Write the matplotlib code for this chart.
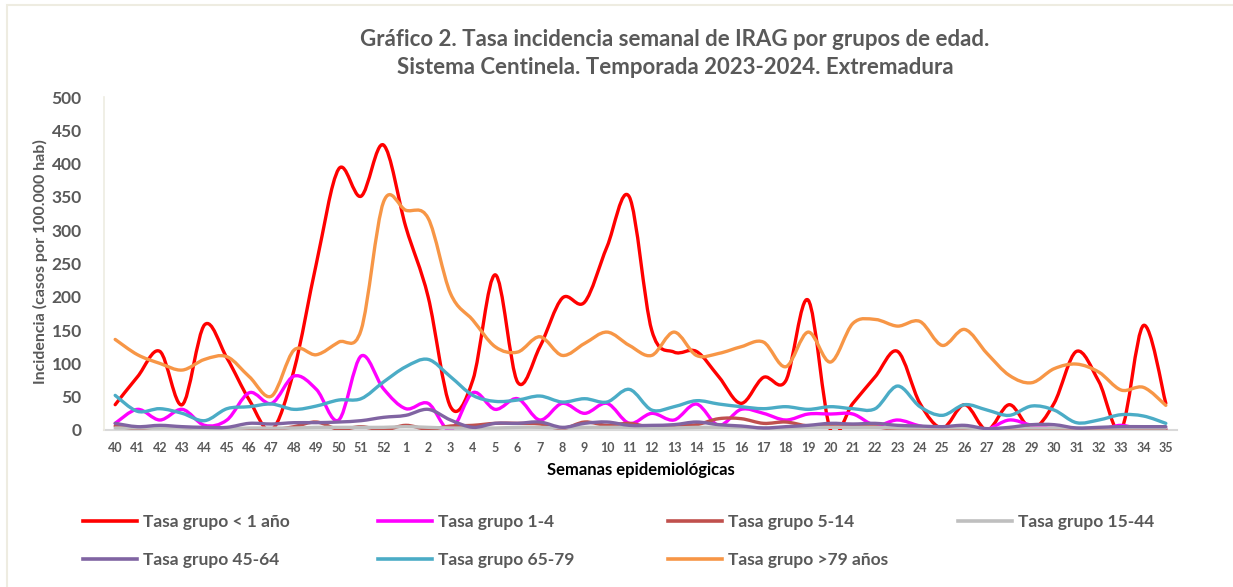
import numpy as np
import matplotlib
matplotlib.use("Agg")
import matplotlib.pyplot as plt
from matplotlib.path import Path
from matplotlib.patches import PathPatch, Rectangle
from matplotlib.lines import Line2D

weeks = ["40","41","42","43","44","45","46","47","48","49","50","51","52",
         "1","2","3","4","5","6","7","8","9","10","11","12","13","14","15",
         "16","17","18","19","20","21","22","23","24","25","26","27","28",
         "29","30","31","32","33","34","35"]

g_lt1 = [38, 80, 118, 38, 158, 108, 45, 0, 90, 250, 392, 351, 428,
         305, 200, 35, 75, 233, 72, 125, 198, 192, 275, 350, 150, 117, 118, 80,
         40, 79, 74, 195, 0, 40, 80, 118, 40, 3, 38, 0, 38,
         2, 40, 118, 73, 0, 157, 40]
g_1_4 = [10, 31, 15, 31, 7, 15, 56, 40, 81, 61, 15, 111, 62,
         32, 40, 0, 56, 31, 47, 15, 40, 25, 40, 10, 25, 15, 39, 7,
         31, 25, 15, 24, 24, 24, 7, 15, 6, 0, 1, 1, 15,
         7, 2, 0, 0, 7, 0, 2]
g_5_14 = [6, 2, 5, 4, 0, 0, 0, 0, 5, 12, 1, 5, 0,
          7, 1, 6, 7, 10, 10, 9, 2, 12, 7, 10, 4, 7, 8, 17,
          17, 10, 12, 6, 5, 5, 5, 0, 0, 1, 2, 0, 1,
          1, 2, 1, 0, 1, 0, 1]
g_15_44 = [3, 3, 3, 3, 2, 2, 3, 3, 3, 4, 4, 4, 4,
           5, 4, 3, 3, 3, 4, 4, 3, 4, 4, 4, 3, 3, 4, 4,
           4, 3, 3, 4, 4, 4, 4, 3, 3, 3, 3, 2, 3,
           3, 3, 3, 3, 3, 3, 3]
g_45_64 = [10, 5, 7, 5, 4, 4, 10, 9, 11, 11, 12, 14, 19,
           22, 31, 15, 4, 10, 10, 12, 4, 10, 12, 7, 7, 8, 12, 8,
           6, 3, 5, 7, 10, 9, 10, 7, 6, 5, 7, 2, 4,
           8, 8, 3, 4, 5, 5, 5]
g_65_79 = [52, 28, 32, 25, 14, 32, 35, 39, 31, 36, 45, 47, 72,
           95, 106, 80, 52, 43, 45, 51, 42, 47, 42, 61, 30, 35, 44, 39,
           35, 32, 35, 31, 35, 32, 32, 66, 35, 22, 38, 30, 22,
           36, 30, 11, 15, 23, 21, 10]
g_gt79 = [136, 113, 100, 90, 106, 110, 80, 51, 120, 113, 132, 150, 342,
          330, 318, 205, 165, 125, 117, 140, 112, 130, 147, 127, 112, 147, 112, 115,
          125, 132, 95, 147, 102, 160, 166, 156, 163, 127, 151, 115, 82,
          71, 92, 99, 87, 60, 64, 37]

series = [
    ("Tasa grupo < 1 año", g_lt1, "#FF0000"),
    ("Tasa grupo 1-4", g_1_4, "#FF00FF"),
    ("Tasa grupo 5-14", g_5_14, "#C0504D"),
    ("Tasa grupo 15-44", g_15_44, "#BFBFBF"),
    ("Tasa grupo 45-64", g_45_64, "#8064A2"),
    ("Tasa grupo 65-79", g_65_79, "#4BACC6"),
    ("Tasa grupo >79 años", g_gt79, "#F79646"),
]

FONT = ["Lato", "DejaVu Sans"]
GRAY = "#595959"
W, H = 1233, 587
fig = plt.figure(figsize=(W / 100, H / 100), dpi=100)
fig.patch.set_facecolor("white")

# chart area border
fig.patches.append(Rectangle((7 / W, -0.05), 1.2, 1 - 5 / H + 0.05, transform=fig.transFigure,
                             fill=False, edgecolor="#EEECE1", linewidth=1.5))

ax = fig.add_axes([104 / W, 1 - 430 / H, (1177 - 104) / W, (430 - 97) / H])
x = np.arange(len(weeks))


def smooth_path(xs, ys):
    pts = np.column_stack([xs, ys]).astype(float)
    n = len(pts)
    verts = [pts[0]]
    codes = [Path.MOVETO]
    for i in range(n - 1):
        p0 = pts[i - 1] if i > 0 else pts[i]
        p1 = pts[i]
        p2 = pts[i + 1]
        p3 = pts[i + 2] if i + 2 < n else pts[i + 1]
        c1 = p1 + (p2 - p0) / 6.0
        c2 = p2 - (p3 - p1) / 6.0
        verts += [c1, c2, p2]
        codes += [Path.CURVE4] * 3
    return Path(verts, codes)


order = [3, 2, 4, 1, 5, 6, 0]
for k in order:
    label, vals, col = series[k]
    patch = PathPatch(smooth_path(x, vals), facecolor="none", edgecolor=col,
                      linewidth=2.4, capstyle="round", joinstyle="round", zorder=3 + k * 0.1)
    ax.add_patch(patch)

ax.set_xlim(-0.5, len(weeks) - 0.5)
ax.set_ylim(0, 500)
ax.set_yticks(np.arange(0, 501, 50))
ax.set_xticks(x)
ax.set_xticklabels(weeks)
for s in ["top", "right"]:
    ax.spines[s].set_visible(False)
ax.spines["left"].set_color("#EEECE1")
ax.spines["left"].set_linewidth(1.2)
ax.spines["bottom"].set_color("#D9D9D9")
ax.spines["bottom"].set_linewidth(1.5)
ax.spines["bottom"].set_zorder(2)
ax.tick_params(axis="both", length=0, colors=GRAY)
ax.tick_params(axis="y", pad=16)
ax.tick_params(axis="x", pad=9)
for t in ax.get_yticklabels():
    t.set_fontfamily(FONT); t.set_fontweight("bold"); t.set_fontsize(12.5); t.set_color(GRAY)
for t in ax.get_xticklabels():
    t.set_fontfamily(FONT); t.set_fontweight("bold"); t.set_fontsize(9); t.set_color(GRAY)

fig.text(675 / W, 1 - 40 / H, "Gráfico 2. Tasa incidencia semanal de IRAG por grupos de edad.",
         ha="center", va="center", fontsize=16, fontweight="bold", color=GRAY, family=FONT)
fig.text(675 / W, 1 - 68 / H, "Sistema Centinela. Temporada 2023-2024. Extremadura",
         ha="center", va="center", fontsize=16, fontweight="bold", color=GRAY, family=FONT)
fig.text(40 / W, 1 - 262 / H, "Incidencia (casos por 100.000 hab)", rotation=90,
         ha="center", va="center", fontsize=11.5, fontweight="bold", color=GRAY, family=FONT)
fig.text(641 / W, 1 - 470 / H, "Semanas epidemiológicas",
         ha="center", va="center", fontsize=12, fontweight="bold", color="black", family=FONT)

cols_x = [83, 378, 668, 958]
rows_y = [522, 560]
for k, (label, vals, col) in enumerate(series):
    r, c = divmod(k, 4)
    h = Line2D([], [], color=col, linewidth=2.6)
    leg = fig.legend([h], [label], loc="center left",
                     bbox_to_anchor=(cols_x[c] / W, 1 - rows_y[r] / H),
                     frameon=False, borderpad=0, borderaxespad=0,
                     handlelength=3.1, handletextpad=0.35,
                     prop={"family": FONT, "weight": "bold", "size": 12.5})
    for t in leg.get_texts():
        t.set_color(GRAY)

fig.savefig("out.png", dpi=100, facecolor="white")
